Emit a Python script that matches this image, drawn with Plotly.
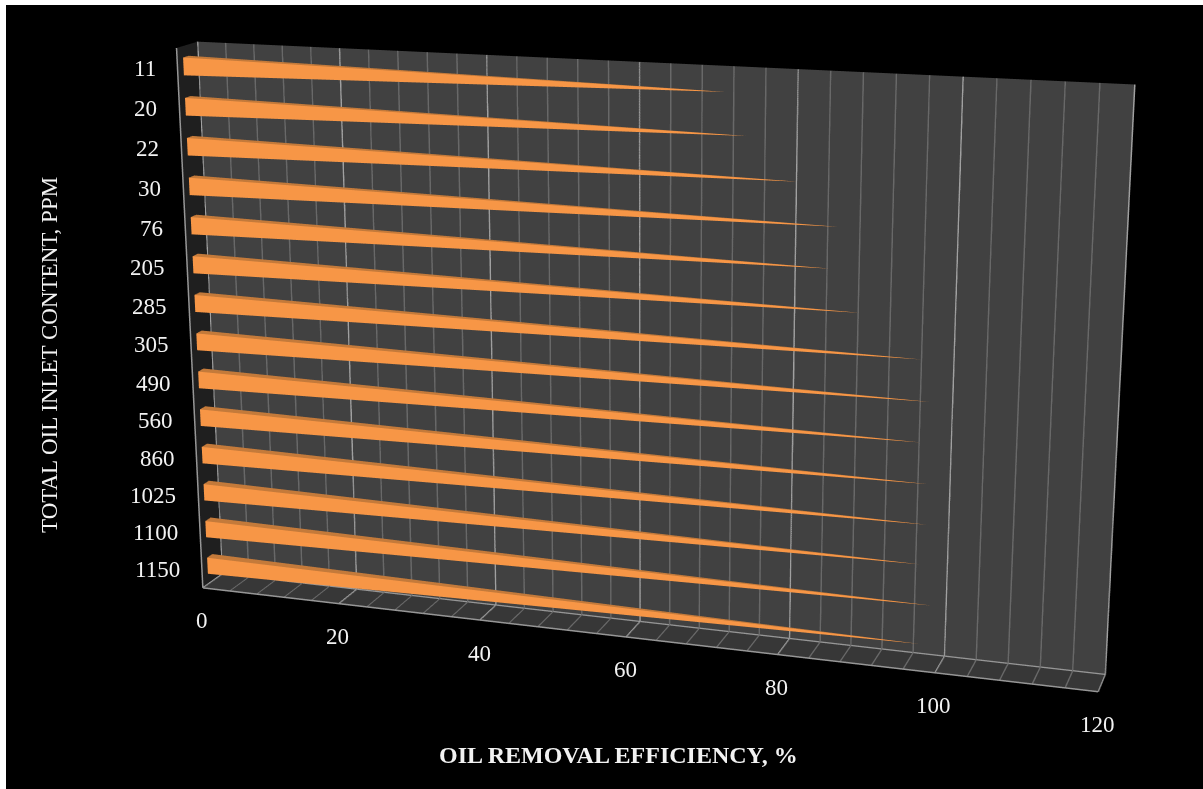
import plotly.graph_objects as go

# Data
categories = ["11","20","22","30","76","205","285","305","490","560","860","1025","1100","1150"]
efficiency = [71.9,74.6,81,86.1,85.2,89,96.6,97.8,96.8,97.9,97.9,97.1,98.8,97.4]
x_major = [0,20,40,60,80,100,120]
x_title = "OIL REMOVAL EFFICIENCY, %"
y_title = "TOTAL OIL INLET CONTENT, PPM"

ORANGE = "#F79646"; TOP = "#C47A3A"; TEXT = "#F2F2F2"; FONT = "Liberation Serif"
BAR_FRONT, BAR_BACK, HALF = 0.28, 0.55, 0.22
W, H, TOP_OFFSET = 1209, 2200, 703
n = len(categories)

fig = go.Figure()
for i, v in enumerate(efficiency):
    c = n - 0.5 - i
    mid = (BAR_FRONT + BAR_BACK) / 2
    fig.add_trace(go.Mesh3d(
        x=[0,0,0,0,v],
        y=[BAR_FRONT,BAR_FRONT,BAR_BACK,BAR_BACK,mid],
        z=[c+HALF,c-HALF,c+HALF,c-HALF,c],
        i=[0,0,1,2,0,0], j=[1,2,3,3,1,3], k=[4,4,4,4,3,2],
        facecolor=[ORANGE,TOP,TOP,TOP,ORANGE,ORANGE],
        flatshading=True,
        lighting=dict(ambient=1,diffuse=0,specular=0,fresnel=0,roughness=1),
        hoverinfo="skip", showscale=False))

# brighter major gridlines on wall and floor
mx, my, mz = [], [], []
for t in x_major:
    mx += [t,t,None,t,t,None]; my += [1,1,None,0,1,None]; mz += [0,n,None,0,0,None]
fig.add_trace(go.Scatter3d(x=mx,y=my,z=mz,mode="lines",line=dict(color="#A0A0A0",width=3),hoverinfo="skip",showlegend=False))
# box edges
ex = [0,0,None,0,120,None,120,120,None,0,120]
ey = [0,0,None,0,0,None,0,1,None,1,1]
ez = [0,n,None,0,0,None,0,0,None,0,0]
fig.add_trace(go.Scatter3d(x=ex,y=ey,z=ez,mode="lines",line=dict(color="#969696",width=3),hoverinfo="skip",showlegend=False))

ann = []
for i, c in enumerate(categories):
    ann.append(dict(x=0,y=0,z=n-0.5-i,text=c,showarrow=False,xanchor="right",yanchor="middle",xshift=-20,yshift=0,
                    font=dict(family=FONT,size=23,color=TEXT)))
for t in x_major:
    ann.append(dict(x=t,y=0,z=0,text=str(t),showarrow=False,xanchor="center",yanchor="middle",xshift=-1,yshift=-33,
                    font=dict(family=FONT,size=23,color=TEXT)))

hidden = dict(showticklabels=False,zeroline=False,showspikes=False,title=dict(text=""),ticks="")
fig.update_layout(
    width=W,height=H,margin=dict(l=0,r=0,t=0,b=0),paper_bgcolor="black",showlegend=False,
    scene=dict(domain=dict(x=[0,1],y=[0,1]),aspectmode="manual",aspectratio=dict(x=1,y=0.0488,z=0.6072),
        dragmode="orbit",hovermode=False,
        xaxis=dict(range=[0,120],tickmode="linear",tick0=0,dtick=4,showgrid=True,gridcolor="#686868",gridwidth=3,
                   showbackground=True,backgroundcolor="#1F1F1F",**hidden),
        yaxis=dict(range=[0,1],showgrid=False,showbackground=True,backgroundcolor="#414141",**hidden),
        zaxis=dict(range=[0,n],showgrid=False,showbackground=True,backgroundcolor="#373737",**hidden),
        camera=dict(eye=dict(x=0.8277,y=-2.5426,z=0.7113),center=dict(x=-0.0335,y=0.0067,z=-0.0494),
                    up=dict(x=-0.0025,y=0.0223,z=1)),
        annotations=ann),
    annotations=[
        dict(x=619/W,y=1-(755+TOP_OFFSET)/H,xref="paper",yref="paper",xanchor="center",yanchor="middle",
             text="<b>"+x_title+"</b>",showarrow=False,font=dict(family=FONT,size=24,color=TEXT)),
        dict(x=49/W,y=1-(355+TOP_OFFSET)/H,xref="paper",yref="paper",xanchor="center",yanchor="middle",
             text=y_title,textangle=-90,showarrow=False,font=dict(family=FONT,size=23,color=TEXT)),
    ])
post = ("document.documentElement.style.overflow='hidden';document.body.style.overflow='hidden';document.body.style.margin='0';"
        "var g=document.querySelector('.plotly-graph-div');g.style.position='absolute';g.style.left='0';g.style.top='-%dpx';"
        "g.style.clipPath='inset(%dpx 0 0 6px)';" % (TOP_OFFSET, TOP_OFFSET+5))
fig.write_html("out.html",post_script=post,config=dict(displayModeBar=False))
